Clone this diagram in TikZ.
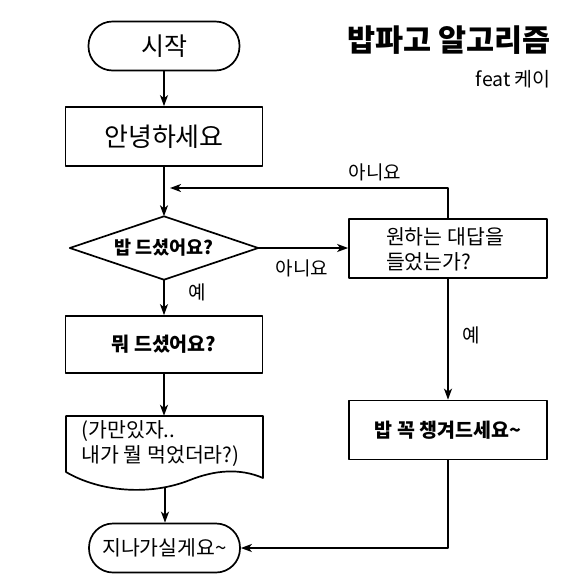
\documentclass[tikz,border=0pt]{standalone}
\usepackage{fontspec}
\setmainfont{Noto Sans CJK KR}
\usetikzlibrary{arrows.meta}
\begin{document}
\begin{tikzpicture}[x=1pt,y=-1pt,
  ln/.style={line width=1.7pt, line join=round},
  box/.style={draw, ln, minimum width=197pt, minimum height=59pt, inner sep=0pt},
  term/.style={draw, ln, rounded corners=24pt, minimum width=151pt, minimum height=49pt, inner sep=0pt},
  arr/.style={ln, -{Stealth[length=11pt,width=8pt,inset=3pt]}},
  lbl/.style={font=\fontsize{19}{22}\selectfont},
  txt/.style={font=\fontsize{20.5}{25}\selectfont},
  btxt/.style={font=\bfseries\fontsize{19.5}{23}\selectfont}]
\fill[white] (0,0) rectangle (584,582);
\useasboundingbox (0,0) rectangle (584,582);
% title
\node[anchor=east, font=\bfseries\fontsize{30.5}{34}\selectfont, inner sep=0pt] (title) at (551,40) {밥파고 알고리즘};
\node[anchor=east, font=\fontsize{19.5}{22}\selectfont, inner sep=0pt] (feat) at (551,79) {feat 케이};
% nodes
\node[term, font=\fontsize{25}{28}\selectfont] (start) at (164,46) {시작};
\node[box, font=\fontsize{26}{30}\selectfont] (hello) at (164,136.5) {안녕하세요};
\node[btxt, font=\bfseries\fontsize{18.5}{22}\selectfont, minimum width=188pt, minimum height=63pt, inner sep=0pt] (ate) at (164,248) {밥 드셨어요?};
\draw[ln] (ate.west) -- (ate.north) -- (ate.east) -- (ate.south) -- cycle;
\node[box, minimum width=198pt] (want) at (448,248.5) {};
\node[txt, align=left] (wanttext) at (445,249.5) {원하는 대답을\\들었는가?};
\node[box, btxt, minimum height=57pt] (what) at (164,344.5) {뭐 드셨어요?};
\node[minimum width=197pt, minimum height=58pt, inner sep=0pt] (doc) at (164,445) {};
\draw[ln] (66,416) -- (263,416) -- (263,478) .. controls (240,468) and (215,470) .. (190,480)
  .. controls (150,496) and (100,492) .. (66,472) -- cycle;
\node[txt, align=left, anchor=west] (doctext) at (78,444) {(가만있자..\\내가 뭘 먹었더라?)};
\coordinate (docb) at (165,487);
\node[box, btxt, minimum width=198pt] (pack) at (448,430) {밥 꼭 챙겨드세요\textasciitilde};
\node[term, font=\fontsize{20.5}{24}\selectfont] (end) at (164.5,548) {지나가실게요\textasciitilde};
\coordinate (mrg) at (170,188);
% connectors
\draw[arr] (start) -- (hello);
\draw[arr] (hello) -- (ate.north);
\draw[arr] (ate.east) -- (want.west |- ate.east);
\draw[arr] (want.north) |- (mrg);
\draw[arr] (want) -- (pack);
\draw[arr] (ate.south) -- (what);
\draw[arr] (what) -- (doc.north);
\draw[arr] (docb) -- (docb |- end.north);
\draw[arr] (pack.south) |- (end.east);
% labels
\node[lbl] (no1) at (302,268) {아니요};
\node[lbl] (no2) at (375,172) {아니요};
\node[lbl] (yes1) at (197,292) {예};
\node[lbl] (yes2) at (471,335) {예};
\end{tikzpicture}
\end{document}
